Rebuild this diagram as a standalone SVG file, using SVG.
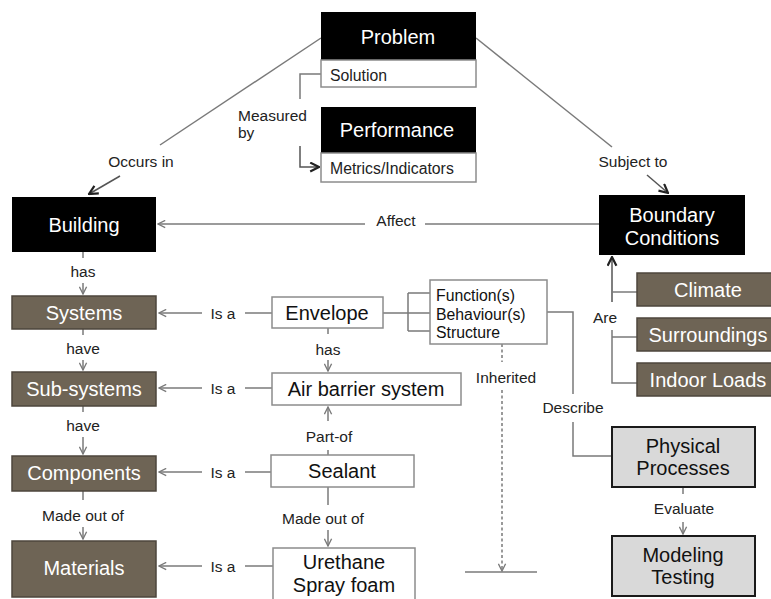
<svg xmlns="http://www.w3.org/2000/svg" width="771" height="599" viewBox="0 0 771 599">
<defs>
<style>
text{font-family:"Liberation Sans",Arial,sans-serif;}
.t{font-size:20px;text-anchor:middle;}
.w{fill:#fff;}
.k{fill:#111;}
.l{font-size:15.5px;fill:#222;}
.m{text-anchor:middle;}
.blk{fill:#000;}
.wht{fill:#fff;stroke:#8c8c8c;stroke-width:1.5;}
.brn{fill:#6e6455;stroke:#4d463c;stroke-width:1.5;}
.gry{fill:#d9d9d9;stroke:#1a1a1a;stroke-width:2;}
.c{fill:none;stroke:#7a7a7a;stroke-width:1.5;}
.cd{fill:none;stroke:#555;stroke-width:1.5;}
</style>
<marker id="a" viewBox="0 0 10 10" refX="9" refY="5" markerWidth="9" markerHeight="9" markerUnits="userSpaceOnUse" orient="auto">
<path d="M1,1 L9,5 L1,9" fill="none" stroke="#7a7a7a" stroke-width="1.5"/>
</marker>
<marker id="b" viewBox="0 0 10 10" refX="9" refY="5" markerWidth="11" markerHeight="11" markerUnits="userSpaceOnUse" orient="auto">
<path d="M1,1 L9,5 L1,9" fill="none" stroke="#222" stroke-width="2"/>
</marker>
</defs>
<rect width="771" height="599" fill="#fff"/>

<g id="connectors">
<path class="c" d="M321,38 L160,145"/>
<path class="cd" d="M120,176 L89,194" marker-end="url(#b)"/>
<path class="c" d="M476,38 L612,147"/>
<path class="cd" d="M647,175 L668,193" marker-end="url(#b)"/>
<path class="c" d="M321,74 H300 V99"/>
<path class="cd" d="M300,146 V167 H319" marker-end="url(#b)"/>
<path class="c" d="M599,224 H425"/>
<path class="c" d="M365,224 H158" marker-end="url(#a)"/>
<path class="c" d="M83,252 V258"/>
<path class="c" d="M83,283 V294" marker-end="url(#a)"/>
<path class="c" d="M83,329 V335"/>
<path class="c" d="M83,360 V370" marker-end="url(#a)"/>
<path class="c" d="M83,406 V412"/>
<path class="c" d="M83,437 V454" marker-end="url(#a)"/>
<path class="c" d="M83,491 V500"/>
<path class="c" d="M83,527 V539" marker-end="url(#a)"/>
<path class="c" d="M272,313 H245"/>
<path class="c" d="M202,313 H159" marker-end="url(#a)"/>
<path class="c" d="M272,388 H245"/>
<path class="c" d="M202,388 H159" marker-end="url(#a)"/>
<path class="c" d="M271,472 H245"/>
<path class="c" d="M202,472 H159" marker-end="url(#a)"/>
<path class="c" d="M273,566 H245"/>
<path class="c" d="M202,566 H159" marker-end="url(#a)"/>
<path class="c" d="M383,313 H430 M408,293 V331 M408,293 H430 M408,331 H430"/>
<path class="c" d="M328,328 V334"/>
<path class="c" d="M328,360 V371" marker-end="url(#a)"/>
<path class="c" d="M328,421 V407" marker-end="url(#a)"/>
<path class="c" d="M328,450 V455"/>
<path class="c" d="M328,487 V505"/>
<path class="c" d="M328,530 V546" marker-end="url(#a)"/>
<path class="c" d="M502,344 V362" stroke-dasharray="3,2.5"/>
<path class="c" d="M502,390 V571" stroke-dasharray="3,2.5" marker-end="url(#a)"/>
<path class="c" d="M465,572 H537"/>
<path class="cd" d="M612,302 V257" marker-end="url(#b)"/>
<path class="c" d="M612,292 H637"/>
<path class="c" d="M612,330 V383 H637 M612,337 H637"/>
<path class="c" d="M612,456 H573 V422"/>
<path class="c" d="M573,394 V312 H538" marker-end="url(#a)"/>
<path class="c" d="M683,487 V494"/>
<path class="c" d="M683,522 V534" marker-end="url(#a)"/>
</g>

<g id="edge-labels">
<text class="l m" x="141" y="166.5">Occurs in</text>
<text class="l m" x="633" y="167">Subject to</text>
<text class="l" x="238" y="121">Measured</text>
<text class="l" x="238" y="138">by</text>
<text class="l m" x="396" y="225.5">Affect</text>
<text class="l m" x="83" y="277">has</text>
<text class="l m" x="83" y="354">have</text>
<text class="l m" x="83" y="431">have</text>
<text class="l m" x="83" y="521">Made out of</text>
<text class="l m" x="223" y="318.5">Is a</text>
<text class="l m" x="223" y="393.5">Is a</text>
<text class="l m" x="223" y="477.5">Is a</text>
<text class="l m" x="223" y="571.5">Is a</text>
<text class="l m" x="328" y="354.5">has</text>
<text class="l m" x="329" y="442">Part-of</text>
<text class="l m" x="323" y="523.5">Made out of</text>
<text class="l m" x="506" y="382.5">Inherited</text>
<text class="l m" x="605" y="323">Are</text>
<text class="l m" x="573" y="413">Describe</text>
<text class="l m" x="684" y="514">Evaluate</text>
</g>

<g id="problem">
<rect class="blk" x="321" y="12" width="155" height="48"/>
<rect class="wht" x="321" y="60" width="155" height="27"/>
<text class="t w" x="398" y="44">Problem</text>
<text class="l" x="330" y="80.5" style="font-size:15.8px">Solution</text>
</g>
<g id="performance">
<rect class="blk" x="321" y="107" width="155" height="46"/>
<rect class="wht" x="321" y="153" width="155" height="29"/>
<text class="t w" x="397" y="137">Performance</text>
<text class="l" x="330" y="173.5" style="font-size:15.8px">Metrics/Indicators</text>
</g>
<g id="building">
<rect class="blk" x="12" y="197" width="144" height="55"/>
<text class="t w" x="84" y="232">Building</text>
</g>
<g id="boundary-conditions">
<rect class="blk" x="599" y="195" width="146" height="60"/>
<text class="t w" x="672" y="222">Boundary</text>
<text class="t w" x="672" y="245">Conditions</text>
</g>
<g id="systems">
<rect class="brn" x="12" y="296" width="144" height="33"/>
<text class="t w" x="84" y="320">Systems</text>
</g>
<g id="sub-systems">
<rect class="brn" x="12" y="372" width="144" height="34"/>
<text class="t w" x="84" y="396">Sub-systems</text>
</g>
<g id="components">
<rect class="brn" x="12" y="456" width="144" height="35"/>
<text class="t w" x="84" y="480">Components</text>
</g>
<g id="materials">
<rect class="brn" x="12" y="541" width="144" height="56"/>
<text class="t w" x="84" y="575">Materials</text>
</g>
<g id="envelope">
<rect class="wht" x="272" y="297" width="111" height="31"/>
<text class="t k" x="327" y="320">Envelope</text>
</g>
<g id="air-barrier-system">
<rect class="wht" x="272" y="373" width="189" height="32"/>
<text class="t k" x="366" y="396">Air barrier system</text>
</g>
<g id="sealant">
<rect class="wht" x="271" y="455" width="143" height="32"/>
<text class="t k" x="342" y="478">Sealant</text>
</g>
<g id="urethane-spray-foam">
<rect class="wht" x="273" y="548" width="142" height="56"/>
<text class="t k" x="344" y="569">Urethane</text>
<text class="t k" x="344" y="592">Spray foam</text>
</g>
<g id="function-behaviour-structure">
<rect class="wht" x="430" y="280" width="117" height="64"/>
<text class="l" x="436" y="300.5" style="font-size:15.8px;fill:#111">Function(s)</text>
<text class="l" x="436" y="320" style="font-size:15.8px;fill:#111">Behaviour(s)</text>
<text class="l" x="436" y="337.5" style="font-size:15.8px;fill:#111">Structure</text>
</g>
<g id="climate">
<rect class="brn" x="637" y="273" width="140" height="33"/>
<text class="t w" x="708" y="297">Climate</text>
</g>
<g id="surroundings">
<rect class="brn" x="637" y="318" width="140" height="33"/>
<text class="t w" x="708" y="342">Surroundings</text>
</g>
<g id="indoor-loads">
<rect class="brn" x="637" y="363" width="140" height="33"/>
<text class="t w" x="708" y="387">Indoor Loads</text>
</g>
<g id="physical-processes">
<rect class="gry" x="612" y="427" width="143" height="60"/>
<text class="t k" x="683" y="453">Physical</text>
<text class="t k" x="683" y="475">Processes</text>
</g>
<g id="modeling-testing">
<rect class="gry" x="612" y="536" width="143" height="60"/>
<text class="t k" x="683" y="562">Modeling</text>
<text class="t k" x="683" y="584">Testing</text>
</g>
</svg>
